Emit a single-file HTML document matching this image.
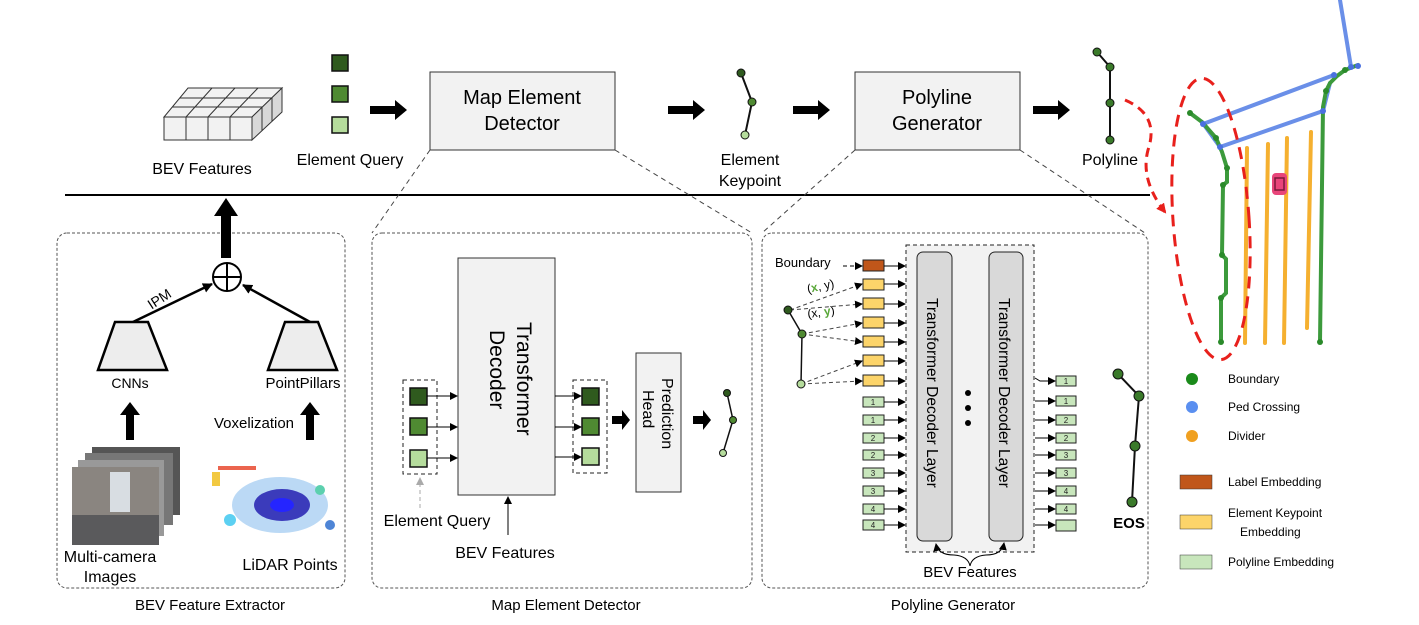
<!DOCTYPE html>
<html><head><meta charset="utf-8"><style>
html,body{margin:0;padding:0;background:#fff;}
svg{display:block;font-family:"Liberation Sans",Arial,sans-serif;}
</style></head><body>
<svg width="1419" height="625" viewBox="0 0 1419 625" xmlns="http://www.w3.org/2000/svg">
<defs>
<marker id="ah" markerWidth="8" markerHeight="8" refX="7" refY="4" orient="auto" markerUnits="userSpaceOnUse"><path d="M0,0 L8,4 L0,8 z" fill="#000"/></marker>
<marker id="ahs" markerWidth="10" markerHeight="10" refX="9" refY="5" orient="auto" markerUnits="userSpaceOnUse"><path d="M0,0 L10,5 L0,10 z" fill="#000"/></marker>
<marker id="ahg" markerWidth="8" markerHeight="8" refX="7" refY="4" orient="auto" markerUnits="userSpaceOnUse"><path d="M0,0 L8,4 L0,8 z" fill="#aaa"/></marker>
<marker id="ahr" markerWidth="10" markerHeight="10" refX="8" refY="5" orient="auto" markerUnits="userSpaceOnUse"><path d="M0,0 L10,5 L0,10 z" fill="#e8201c"/></marker>
</defs>

<g stroke="#333" stroke-width="1" fill="#f2f2f2">
<polygon points="188,88 282,88 252,117 164,117"/>
<polygon points="164,117 252,117 252,140 164,140"/>
<polygon points="252,117 282,88 282,112 252,140" fill="#d8d8d8"/>
<line x1="186" y1="117" x2="212" y2="88"/><line x1="208" y1="117" x2="235" y2="88"/><line x1="230" y1="117" x2="258" y2="88"/>
<line x1="180" y1="98" x2="272" y2="98"/><line x1="172" y1="107" x2="262" y2="107"/>
<line x1="186" y1="117" x2="186" y2="140"/><line x1="208" y1="117" x2="208" y2="140"/><line x1="230" y1="117" x2="230" y2="140"/>
<line x1="262" y1="107" x2="262" y2="131"/><line x1="272" y1="98" x2="272" y2="121"/>
</g>
<text x="202" y="174" font-size="16" text-anchor="middle">BEV Features</text>

<rect x="332" y="55" width="16" height="16" fill="#2f5a1e" stroke="#111" stroke-width="1.5"/>
<rect x="332" y="86" width="16" height="16" fill="#4f8a32" stroke="#111" stroke-width="1.5"/>
<rect x="332" y="117" width="16" height="16" fill="#b5dc9c" stroke="#111" stroke-width="1.5"/>
<text x="350" y="165" font-size="16" text-anchor="middle">Element Query</text>

<g fill="#000">
<polygon points="370,106 395,106 395,100 407,110 395,120 395,114 370,114"/>
<polygon points="668,106 693,106 693,100 705,110 693,120 693,114 668,114"/>
<polygon points="793,106 818,106 818,100 830,110 818,120 818,114 793,114"/>
<polygon points="1033,106 1058,106 1058,100 1070,110 1058,120 1058,114 1033,114"/>
</g>
<rect x="430" y="72" width="185" height="78" fill="#f2f2f2" stroke="#333" stroke-width="1"/>
<text x="522" y="104" font-size="20" text-anchor="middle">Map Element</text>
<text x="522" y="130" font-size="20" text-anchor="middle">Detector</text>
<rect x="855" y="72" width="165" height="78" fill="#f2f2f2" stroke="#333" stroke-width="1"/>
<text x="937" y="104" font-size="20" text-anchor="middle">Polyline</text>
<text x="937" y="130" font-size="20" text-anchor="middle">Generator</text>

<polyline points="741,73 752,102 745,135" fill="none" stroke="#111" stroke-width="2"/>
<circle cx="741" cy="73" r="4" fill="#2f5a1e" stroke="#111"/><circle cx="752" cy="102" r="4" fill="#4f8a32" stroke="#111"/><circle cx="745" cy="135" r="4" fill="#b5dc9c" stroke="#111"/>
<text x="750" y="165" font-size="16" text-anchor="middle">Element</text>
<text x="750" y="186" font-size="16" text-anchor="middle">Keypoint</text>
<polyline points="1097,52 1110,67 1110,103 1110,140" fill="none" stroke="#111" stroke-width="2"/>
<circle cx="1097" cy="52" r="4" fill="#3a7a2a" stroke="#111"/><circle cx="1110" cy="67" r="4" fill="#3a7a2a" stroke="#111"/><circle cx="1110" cy="103" r="4" fill="#3a7a2a" stroke="#111"/><circle cx="1110" cy="140" r="4" fill="#3a7a2a" stroke="#111"/>
<text x="1110" y="165" font-size="16" text-anchor="middle">Polyline</text>
<path d="M1125,100 Q1160,115 1148,150 Q1140,180 1165,212" fill="none" stroke="#e8201c" stroke-width="3" stroke-dasharray="9,6" marker-end="url(#ahr)"/>

<line x1="65" y1="195" x2="1150" y2="195" stroke="#000" stroke-width="2"/>

<g stroke="#444" stroke-width="1" stroke-dasharray="5,4">
<line x1="430" y1="150" x2="372" y2="233"/><line x1="615" y1="150" x2="752" y2="233"/>
<line x1="855" y1="150" x2="762" y2="233"/><line x1="1020" y1="150" x2="1145" y2="233"/>
</g>

<g fill="none" stroke="#555" stroke-width="1" stroke-dasharray="3,2">
<rect x="57" y="233" width="288" height="355" rx="10"/>
<rect x="372" y="233" width="380" height="355" rx="10"/>
<rect x="762" y="233" width="386" height="355" rx="10"/>
</g>
<text x="210" y="610" font-size="15" text-anchor="middle">BEV Feature Extractor</text>
<text x="566" y="610" font-size="15" text-anchor="middle">Map Element Detector</text>
<text x="953" y="610" font-size="15" text-anchor="middle">Polyline Generator</text>

<polygon points="221,258 221,216 214,216 226,198 238,216 231,216 231,258" fill="#000"/>
<circle cx="227" cy="277" r="14" fill="#fff" stroke="#000" stroke-width="2"/>
<line x1="213" y1="277" x2="241" y2="277" stroke="#000" stroke-width="2"/><line x1="227" y1="263" x2="227" y2="291" stroke="#000" stroke-width="2"/>
<line x1="133" y1="322" x2="212" y2="284" stroke="#000" stroke-width="2.5" marker-end="url(#ahs)"/>
<line x1="310" y1="322" x2="243" y2="285" stroke="#000" stroke-width="2.5" marker-end="url(#ahs)"/>
<text x="162" y="303" font-size="14" transform="rotate(-33 162 303)" text-anchor="middle">IPM</text>
<polygon points="115,322 148,322 167,370 98,370" fill="#ededed" stroke="#000" stroke-width="2.5"/>
<polygon points="285,322 318,322 337,370 268,370" fill="#ededed" stroke="#000" stroke-width="2.5"/>
<text x="130" y="388" font-size="14" text-anchor="middle">CNNs</text>
<text x="303" y="388" font-size="15" text-anchor="middle">PointPillars</text>
<polygon points="126,440 126,415 120,415 130,402 140,415 134,415 134,440" fill="#000"/>
<polygon points="306,440 306,415 300,415 310,402 320,415 314,415 314,440" fill="#000"/>
<text x="254" y="428" font-size="15" text-anchor="middle">Voxelization</text>
<rect x="92" y="447" width="88" height="68" fill="#555"/>
<rect x="85" y="453" width="88" height="72" fill="#777"/>
<rect x="78" y="460" width="86" height="76" fill="#999"/>
<rect x="72" y="467" width="87" height="78" fill="#8a8580"/>
<rect x="110" y="472" width="20" height="40" fill="#d8dde2"/>
<rect x="72" y="515" width="87" height="30" fill="#5a5a5c"/>
<g opacity="0.85">
<ellipse cx="280" cy="505" rx="48" ry="28" fill="#5fa8e8" opacity="0.5"/>
<ellipse cx="282" cy="505" rx="28" ry="16" fill="#1a1ab0"/>
<ellipse cx="282" cy="505" rx="12" ry="7" fill="#0000ff"/>
<rect x="218" y="466" width="38" height="4" fill="#e84a30"/>
<rect x="212" y="472" width="8" height="14" fill="#f0c020"/>
<circle cx="230" cy="520" r="6" fill="#40c8f0"/><circle cx="320" cy="490" r="5" fill="#40c8a0"/><circle cx="330" cy="525" r="5" fill="#3070d0"/>
</g>
<text x="110" y="562" font-size="16" text-anchor="middle">Multi-camera</text>
<text x="110" y="582" font-size="16" text-anchor="middle">Images</text>
<text x="290" y="570" font-size="16" text-anchor="middle">LiDAR Points</text>

<rect x="458" y="258" width="97" height="237" fill="#f2f2f2" stroke="#333" stroke-width="1"/>
<text transform="translate(517,322) rotate(90)" font-size="21" text-anchor="start">Transformer</text>
<text transform="translate(490,330) rotate(90)" font-size="21" text-anchor="start">Decoder</text>
<rect x="403" y="380" width="34" height="94" fill="none" stroke="#222" stroke-dasharray="4,3"/>
<rect x="410" y="388" width="17" height="17" fill="#2f5a1e" stroke="#111" stroke-width="1.5"/>
<rect x="410" y="418" width="17" height="17" fill="#4f8a32" stroke="#111" stroke-width="1.5"/>
<rect x="410" y="450" width="17" height="17" fill="#b5dc9c" stroke="#111" stroke-width="1.5"/>
<g stroke="#000" stroke-width="1"><line x1="427" y1="396" x2="457" y2="396" marker-end="url(#ah)"/><line x1="427" y1="427" x2="457" y2="427" marker-end="url(#ah)"/><line x1="427" y1="458" x2="457" y2="458" marker-end="url(#ah)"/></g>
<line x1="420" y1="508" x2="420" y2="478" stroke="#aaa" stroke-dasharray="4,3" marker-end="url(#ahg)"/>
<text x="437" y="526" font-size="16" text-anchor="middle">Element Query</text>
<line x1="508" y1="535" x2="508" y2="497" stroke="#000" marker-end="url(#ah)"/>
<text x="505" y="558" font-size="16" text-anchor="middle">BEV Features</text>
<rect x="573" y="380" width="34" height="93" fill="none" stroke="#222" stroke-dasharray="4,3"/>
<rect x="582" y="388" width="17" height="17" fill="#2f5a1e" stroke="#111" stroke-width="1.5"/>
<rect x="582" y="418" width="17" height="17" fill="#4f8a32" stroke="#111" stroke-width="1.5"/>
<rect x="582" y="448" width="17" height="17" fill="#b5dc9c" stroke="#111" stroke-width="1.5"/>
<g stroke="#000" stroke-width="1"><line x1="555" y1="396" x2="581" y2="396" marker-end="url(#ah)"/><line x1="555" y1="427" x2="581" y2="427" marker-end="url(#ah)"/><line x1="555" y1="457" x2="581" y2="457" marker-end="url(#ah)"/></g>
<polygon points="612,416 622,416 622,410 630,420 622,430 622,424 612,424" fill="#000"/>
<rect x="636" y="353" width="45" height="139" fill="#f2f2f2" stroke="#333"/>
<text transform="translate(662,378) rotate(90)" font-size="16">Prediction</text>
<text transform="translate(643,390) rotate(90)" font-size="16">Head</text>
<polygon points="693,416 703,416 703,410 711,420 703,430 703,424 693,424" fill="#000"/>
<polyline points="727,393 733,420 723,453" fill="none" stroke="#111" stroke-width="1.5"/>
<circle cx="727" cy="393" r="3.5" fill="#2f5a1e" stroke="#111"/><circle cx="733" cy="420" r="3.5" fill="#4f8a32" stroke="#111"/><circle cx="723" cy="453" r="3.5" fill="#b5dc9c" stroke="#111"/>

<rect x="906" y="245" width="128" height="307" fill="#f2f2f2" stroke="#222" stroke-dasharray="4,3"/>
<rect x="917" y="252" width="35" height="289" rx="6" fill="#d9d9d9" stroke="#222"/>
<rect x="989" y="252" width="34" height="289" rx="6" fill="#d9d9d9" stroke="#222"/>
<text transform="translate(927,298) rotate(90)" font-size="15.5">Transformer Decoder Layer</text>
<text transform="translate(999,298) rotate(90)" font-size="15.5">Transformer Decoder Layer</text>
<circle cx="968" cy="393" r="3" fill="#000"/><circle cx="968" cy="408" r="3" fill="#000"/><circle cx="968" cy="423" r="3" fill="#000"/>
<path d="M970,566 Q972,556 986,555 Q1002,555 1004,543" fill="none" stroke="#000" marker-end="url(#ah)"/>
<path d="M970,566 Q968,556 954,555 Q938,555 936,544" fill="none" stroke="#000" marker-end="url(#ah)"/>
<text x="970" y="577" font-size="15" text-anchor="middle">BEV Features</text>
<text x="775" y="267" font-size="13">Boundary</text>
<line x1="843" y1="266" x2="862" y2="266" stroke="#000" stroke-dasharray="4,3" marker-end="url(#ah)"/>
<rect x="863" y="260" width="21" height="11" fill="#c0561a" stroke="#222"/>
<g stroke="#000" stroke-width="1">
<line x1="884" y1="266" x2="905" y2="266" marker-end="url(#ah)"/>
</g>
<g fill="#fcd46a" stroke="#222">
<rect x="863" y="279" width="21" height="11"/><rect x="863" y="298" width="21" height="11"/><rect x="863" y="317" width="21" height="11"/><rect x="863" y="336" width="21" height="11"/><rect x="863" y="355" width="21" height="11"/><rect x="863" y="375" width="21" height="11"/>
</g>
<g stroke="#000" stroke-width="1">
<line x1="884" y1="284" x2="905" y2="284" marker-end="url(#ah)"/><line x1="884" y1="304" x2="905" y2="304" marker-end="url(#ah)"/><line x1="884" y1="323" x2="905" y2="323" marker-end="url(#ah)"/><line x1="884" y1="342" x2="905" y2="342" marker-end="url(#ah)"/><line x1="884" y1="361" x2="905" y2="361" marker-end="url(#ah)"/><line x1="884" y1="381" x2="905" y2="381" marker-end="url(#ah)"/>
</g>
<g stroke="#444" stroke-dasharray="4,3" stroke-width="1">
<line x1="790" y1="310" x2="862" y2="284" marker-end="url(#ah)"/><line x1="790" y1="310" x2="862" y2="304" marker-end="url(#ah)"/>
<line x1="802" y1="334" x2="862" y2="323" marker-end="url(#ah)"/><line x1="802" y1="334" x2="862" y2="342" marker-end="url(#ah)"/>
<line x1="801" y1="384" x2="862" y2="361" marker-end="url(#ah)"/><line x1="801" y1="384" x2="862" y2="381" marker-end="url(#ah)"/>
</g>
<text x="808" y="293" font-size="12" transform="rotate(-12 808 293)">(<tspan fill="#5aa83a" font-weight="bold">x</tspan>, y)</text>
<text x="808" y="318" font-size="12" transform="rotate(-8 808 318)">(x, <tspan fill="#5aa83a" font-weight="bold">y</tspan>)</text>
<polyline points="788,310 802,334 801,384" fill="none" stroke="#111" stroke-width="1.5"/>
<circle cx="788" cy="310" r="4" fill="#2f5a1e" stroke="#111"/><circle cx="802" cy="334" r="4" fill="#4f8a32" stroke="#111"/><circle cx="801" cy="384" r="4" fill="#b5dc9c" stroke="#111"/>
<g stroke="#222">
<rect x="863" y="397" width="21" height="10" fill="#c8e6bc"/><rect x="863" y="415" width="21" height="10" fill="#c8e6bc"/><rect x="863" y="433" width="21" height="10" fill="#c8e6bc"/><rect x="863" y="450" width="21" height="10" fill="#c8e6bc"/><rect x="863" y="468" width="21" height="10" fill="#c8e6bc"/><rect x="863" y="486" width="21" height="10" fill="#c8e6bc"/><rect x="863" y="504" width="21" height="10" fill="#c8e6bc"/><rect x="863" y="520" width="21" height="10" fill="#c8e6bc"/>
<rect x="1056" y="376" width="20" height="10" fill="#c8e6bc"/><rect x="1056" y="396" width="20" height="10" fill="#c8e6bc"/><rect x="1056" y="415" width="20" height="10" fill="#c8e6bc"/><rect x="1056" y="433" width="20" height="10" fill="#c8e6bc"/><rect x="1056" y="450" width="20" height="10" fill="#c8e6bc"/><rect x="1056" y="468" width="20" height="10" fill="#c8e6bc"/><rect x="1056" y="486" width="20" height="10" fill="#c8e6bc"/><rect x="1056" y="504" width="20" height="10" fill="#c8e6bc"/><rect x="1056" y="520" width="20" height="11" fill="#c8e6bc"/>
</g>
<g font-size="8" text-anchor="middle" fill="#222">
<text x="873" y="405">1</text><text x="873" y="423">1</text><text x="873" y="441">2</text><text x="873" y="458">2</text><text x="873" y="476">3</text><text x="873" y="494">3</text><text x="873" y="512">4</text><text x="873" y="528">4</text>
<text x="1066" y="384">1</text><text x="1066" y="404">1</text><text x="1066" y="423">2</text><text x="1066" y="441">2</text><text x="1066" y="458">3</text><text x="1066" y="476">3</text><text x="1066" y="494">4</text><text x="1066" y="512">4</text>
</g>
<g stroke="#000" stroke-width="1">
<line x1="884" y1="402" x2="905" y2="402" marker-end="url(#ah)"/><line x1="884" y1="420" x2="905" y2="420" marker-end="url(#ah)"/><line x1="884" y1="438" x2="905" y2="438" marker-end="url(#ah)"/><line x1="884" y1="455" x2="905" y2="455" marker-end="url(#ah)"/><line x1="884" y1="473" x2="905" y2="473" marker-end="url(#ah)"/><line x1="884" y1="491" x2="905" y2="491" marker-end="url(#ah)"/><line x1="884" y1="509" x2="905" y2="509" marker-end="url(#ah)"/><line x1="884" y1="525" x2="905" y2="525" marker-end="url(#ah)"/>
<polyline points="1035,378 1040,381 1055,381" fill="none" marker-end="url(#ah)"/><line x1="1035" y1="401" x2="1055" y2="401" marker-end="url(#ah)"/><line x1="1035" y1="420" x2="1055" y2="420" marker-end="url(#ah)"/><line x1="1035" y1="438" x2="1055" y2="438" marker-end="url(#ah)"/><line x1="1035" y1="455" x2="1055" y2="455" marker-end="url(#ah)"/><line x1="1035" y1="473" x2="1055" y2="473" marker-end="url(#ah)"/><line x1="1035" y1="491" x2="1055" y2="491" marker-end="url(#ah)"/><line x1="1035" y1="509" x2="1055" y2="509" marker-end="url(#ah)"/><line x1="1035" y1="525" x2="1055" y2="525" marker-end="url(#ah)"/>
</g>
<polyline points="1118,374 1139,396 1135,446 1132,502" fill="none" stroke="#111" stroke-width="2"/>
<g fill="#3a7a2a" stroke="#111"><circle cx="1118" cy="374" r="5"/><circle cx="1139" cy="396" r="5"/><circle cx="1135" cy="446" r="5"/><circle cx="1132" cy="502" r="5"/></g>
<text x="1129" y="528" font-size="15" font-weight="bold" text-anchor="middle">EOS</text>

<g stroke-linecap="round" fill="none">
<polyline points="1340,0 1351,67" stroke="#6a8fe8" stroke-width="4"/>
<line x1="1203" y1="124" x2="1334" y2="75" stroke="#6a8fe8" stroke-width="4"/>
<line x1="1220" y1="147" x2="1323" y2="111" stroke="#6a8fe8" stroke-width="4"/>
<polyline points="1202,122 1220,147" stroke="#6a8fe8" stroke-width="4"/>
<polyline points="1323,111 1330,83" stroke="#6a8fe8" stroke-width="4"/>
<line x1="1247" y1="148" x2="1245" y2="343" stroke="#f5b030" stroke-width="4"/>
<line x1="1268" y1="144" x2="1265" y2="343" stroke="#f5b030" stroke-width="4"/>
<line x1="1287" y1="138" x2="1284" y2="343" stroke="#f5b030" stroke-width="4"/>
<line x1="1311" y1="132" x2="1307" y2="328" stroke="#f5b030" stroke-width="4"/>
<polyline points="1190,113 1202,122 1216,138 1222,152 1227,168 1227,182 1223,185 1222,255 1226,259 1226,293 1221,298 1221,342" stroke="#3c9a3c" stroke-width="4"/>
<polyline points="1358,65 1345,70 1337,76 1330,83 1326,91 1323,107 1320,342" stroke="#3c9a3c" stroke-width="4"/>
</g>
<g fill="#2a8a2a"><circle cx="1190" cy="113" r="3"/><circle cx="1216" cy="138" r="3"/><circle cx="1227" cy="168" r="3"/><circle cx="1223" cy="185" r="3"/><circle cx="1222" cy="255" r="3"/><circle cx="1221" cy="298" r="3"/><circle cx="1221" cy="342" r="3"/><circle cx="1345" cy="70" r="3"/><circle cx="1326" cy="91" r="3"/><circle cx="1320" cy="342" r="3"/></g>
<g fill="#4a70e0"><circle cx="1203" cy="124" r="3"/><circle cx="1220" cy="147" r="3"/><circle cx="1334" cy="75" r="3"/><circle cx="1323" cy="111" r="3"/><circle cx="1351" cy="67" r="3"/><circle cx="1358" cy="66" r="3"/></g>
<rect x="1272" y="173" width="15" height="22" rx="4" fill="#e8457a"/>
<rect x="1275" y="178" width="9" height="12" fill="none" stroke="#7a1a3a" stroke-width="1.5"/>
<ellipse cx="1211" cy="219" rx="38" ry="141" transform="rotate(-4 1211 219)" fill="none" stroke="#e8201c" stroke-width="3" stroke-dasharray="12,8"/>

<circle cx="1192" cy="379" r="6" fill="#1a8a1a"/><text x="1228" y="383" font-size="12">Boundary</text>
<circle cx="1192" cy="407" r="6" fill="#5a8ff0"/><text x="1228" y="411" font-size="12">Ped Crossing</text>
<circle cx="1192" cy="436" r="6" fill="#f0a020"/><text x="1228" y="440" font-size="12">Divider</text>
<rect x="1180" y="475" width="32" height="14" fill="#c0561a" stroke="#333" stroke-width="0.5"/><text x="1228" y="486" font-size="12">Label Embedding</text>
<rect x="1180" y="515" width="32" height="14" fill="#fcd46a" stroke="#333" stroke-width="0.5"/><text x="1228" y="517" font-size="12">Element Keypoint</text><text x="1240" y="536" font-size="12">Embedding</text>
<rect x="1180" y="555" width="32" height="14" fill="#c8e6bc" stroke="#333" stroke-width="0.5"/><text x="1228" y="566" font-size="12">Polyline Embedding</text>
</svg>
</body></html>
